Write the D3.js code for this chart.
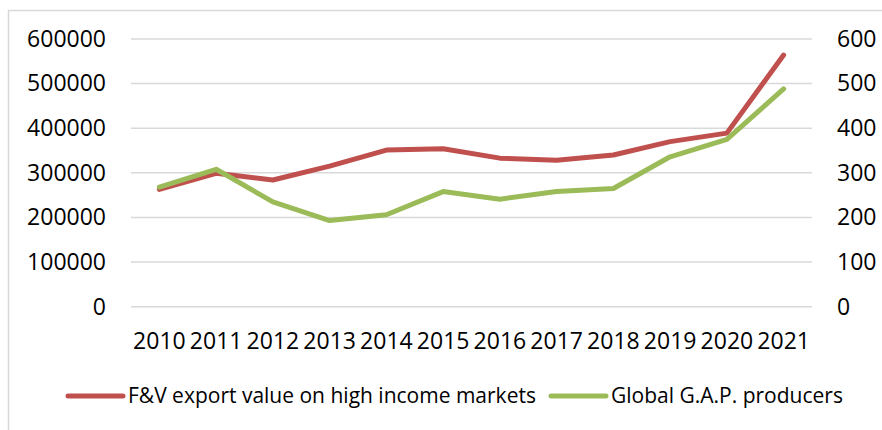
<!DOCTYPE html>
<html>
<head>
<meta charset="utf-8">
<script src="https://cdn.jsdelivr.net/npm/d3@7"></script>
<style>
  body { margin: 0; background: #fff; }
  svg text { font-family: "Open Sans", sans-serif; fill: #000; }
</style>
</head>
<body>
<svg id="chart"></svg>
<script>
var years = ["2010", "2011", "2012", "2013", "2014", "2015", "2016", "2017", "2018", "2019", "2020", "2021"];
var exportValue = [263000, 299000, 284000, 315000, 351000, 354000, 333000, 328000, 340000, 370000, 389000, 564000];
var gapProducers = [268, 308, 235, 193, 206, 258, 241, 258, 265, 336, 375, 488];
var leftTicks = [0, 100000, 200000, 300000, 400000, 500000, 600000];
var rightTicks = [0, 100, 200, 300, 400, 500, 600];
var seriesNames = ["F&V export value on high income markets", "Global G.A.P. producers"];

var width = 882, height = 430;
var margin = {top: 39, right: 70, bottom: 123.3, left: 131};
var red = "#c0504d", green = "#9bbb59";

var svg = d3.select("#chart").attr("width", width).attr("height", height);

// chart border (cut at right and bottom like the original)
svg.append("rect")
  .attr("x", 8.5).attr("y", 10.5)
  .attr("width", 900).attr("height", 450)
  .attr("fill", "none")
  .attr("stroke", "#d9d9d9")
  .attr("stroke-width", 1.5);

var x = d3.scaleBand().domain(years).range([margin.left, width - margin.right]);
var yLeft = d3.scaleLinear().domain([0, 600000]).range([height - margin.bottom, margin.top]);
var yRight = d3.scaleLinear().domain([0, 600]).range([height - margin.bottom, margin.top]);

// gridlines
svg.append("g")
  .selectAll("line")
  .data(leftTicks)
  .enter()
  .append("line")
  .attr("x1", margin.left).attr("x2", width - margin.right)
  .attr("y1", d => yLeft(d)).attr("y2", d => yLeft(d))
  .attr("stroke", "#d9d9d9")
  .attr("stroke-width", 1.5);

var leftAxis = svg.append("g")
  .attr("transform", "translate(" + margin.left + ",0)")
  .call(d3.axisLeft(yLeft).tickValues(leftTicks).tickFormat(d3.format("d")).tickSize(0).tickPadding(25));
leftAxis.select(".domain").remove();

var rightAxis = svg.append("g")
  .attr("transform", "translate(" + (width - margin.right) + ",0)")
  .call(d3.axisRight(yRight).tickValues(rightTicks).tickFormat(d3.format("d")).tickSize(0).tickPadding(25));
rightAxis.select(".domain").remove();

var bottomAxis = svg.append("g")
  .attr("transform", "translate(0," + yLeft(0) + ")")
  .call(d3.axisBottom(x).tickSize(0).tickPadding(25));
bottomAxis.select(".domain").remove();

svg.selectAll(".tick text")
  .style("font-family", "'Open Sans', sans-serif")
  .style("font-size", "23px")
  .attr("fill", "#000");
bottomAxis.selectAll(".tick text").attr("dy", "0.35em").attr("y", 34);

var cx = d => x(d) + x.bandwidth() / 2;

var lineLeft = d3.line().x((d, i) => cx(years[i])).y(d => yLeft(d));
var lineRight = d3.line().x((d, i) => cx(years[i])).y(d => yRight(d));

svg.append("path")
  .datum(exportValue)
  .attr("d", lineLeft)
  .attr("fill", "none")
  .attr("stroke", red)
  .attr("stroke-width", 5)
  .attr("stroke-linecap", "round")
  .attr("stroke-linejoin", "round");

svg.append("path")
  .datum(gapProducers)
  .attr("d", lineRight)
  .attr("fill", "none")
  .attr("stroke", green)
  .attr("stroke-width", 5)
  .attr("stroke-linecap", "round")
  .attr("stroke-linejoin", "round");

// legend
var legendY = 396;
var legendItems = [
  {name: seriesNames[0], color: red, x: 68},
  {name: seriesNames[1], color: green, x: 551}
];
var legend = svg.append("g").selectAll("g")
  .data(legendItems)
  .enter()
  .append("g")
  .attr("transform", d => "translate(" + d.x + "," + legendY + ")");
legend.append("line")
  .attr("x1", 0).attr("x2", 55)
  .attr("stroke", d => d.color)
  .attr("stroke-width", 5)
  .attr("stroke-linecap", "round");
legend.append("text")
  .attr("x", 60)
  .attr("dy", "0.35em")
  .style("font-size", "21px")
  .text(d => d.name);
</script>
</body>
</html>
